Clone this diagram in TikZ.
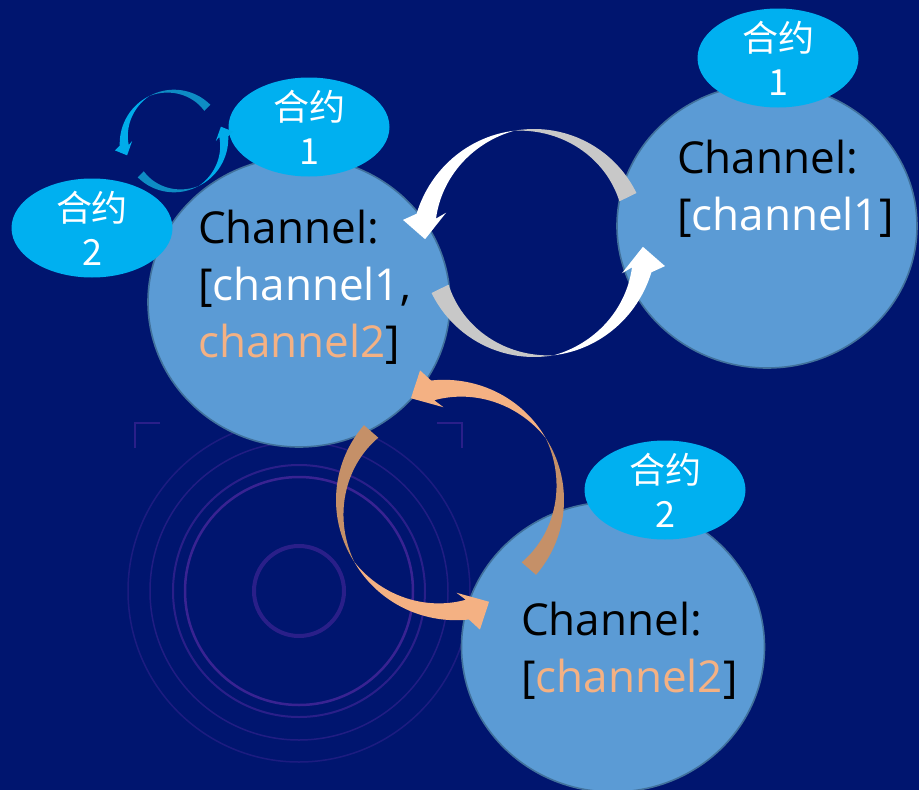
\documentclass[tikz,border=0pt]{standalone}
\usepackage{fontspec}
\setmainfont{Open Sans}
\newfontfamily\cjk{Noto Sans CJK SC}
\usetikzlibrary{shapes.geometric}
\definecolor{bg}{RGB}{0,21,111}
\definecolor{circfill}{RGB}{91,155,213}
\definecolor{circline}{RGB}{65,113,156}
\definecolor{ellfill}{RGB}{0,176,240}
\definecolor{orL}{RGB}{244,177,131}
\definecolor{orD}{RGB}{197,144,104}
\definecolor{grT}{RGB}{200,200,200}
\definecolor{smT}{RGB}{14,140,196}
\definecolor{smH}{RGB}{0,172,234}
\definecolor{deco}{RGB}{95,45,170}
\newcommand{\onearrow}[2]{%
 \fill[#1] plot[domain=26:100,samples=40] ({114*cos(\x)},{-114*sin(\x)})
   -- plot[domain=100:26,samples=40] ({(114-19*(100-\x)/74)*cos(\x)},{-(114-19*(100-\x)/74)*sin(\x)}) -- cycle;
 \fill[#2] plot[domain=100:166,samples=40] ({(114+7*(\x-100)/66)*cos(\x)},{-(114+7*(\x-100)/66)*sin(\x)})
   -- ({133*cos(170)},{-133*sin(170)}) -- ({109*cos(178)},{-109*sin(178)}) -- ({93*cos(161)},{-93*sin(161)})
   -- plot[domain=166:100,samples=40] ({(114-13*(\x-100)/66)*cos(\x)},{-(114-13*(\x-100)/66)*sin(\x)}) -- cycle;
}
\newcommand{\cyclepair}[6]{%
 \begin{scope}[shift={(#1,#2)},rotate=#3,scale=#4]
  \onearrow{#5}{#6}
  \begin{scope}[rotate=180]\onearrow{#5}{#6}\end{scope}
 \end{scope}}
\tikzset{
 bigcirc/.style={ellipse,draw=circline,line width=1.6pt,fill=circfill,inner sep=0pt},
 tag/.style={ellipse,fill=ellfill,inner sep=0pt,minimum width=161,minimum height=99},
 tagtext/.style={text=white,align=center,font=\cjk\fontsize{36}{44}\selectfont,inner sep=0pt},
 chtext/.style={anchor=base west,inner sep=0pt,font=\fontsize{44}{57}\selectfont,text=black},
 decoring/.style={draw=deco,opacity=0.45}
}
\begin{document}
\begin{tikzpicture}[x=1pt,y=-1pt]
\useasboundingbox (0,0) rectangle (919,790);
\fill[bg] (0,0) rectangle (919,790);
% background decoration
\draw[decoring,line width=4pt] (299,591) circle[radius=45];
\draw[decoring,line width=2.5pt,opacity=0.6] (299,591) circle[radius=114];
\draw[decoring,line width=2pt] (299,591) circle[radius=126];
\draw[decoring,line width=1.5pt,opacity=0.35] (299,591) circle[radius=149];
\draw[decoring,line width=1.5pt,opacity=0.3] (299,591) circle[radius=171];
\draw[decoring,line width=2pt] (135,448) -- (135,423) -- (160,423);
\draw[decoring,line width=2pt] (437,423) -- (462,423) -- (462,448);
% main circles
\node[bigcirc,minimum width=302,minimum height=290] (cA) at (299,302) {};
\node[bigcirc,minimum width=300,minimum height=284] (cB) at (767,226) {};
\node[bigcirc,minimum width=303,minimum height=290] (cC) at (613,647) {};
% tags
\node[tag] (eA1) at (309,127) {};
\node[tag] (eA2) at (92,228) {};
\node[tag] (eB1) at (778,58) {};
\node[tag] (eC2) at (665,490) {};
\node[tagtext] (tA1) at (eA1) {合约\\1};
\node[tagtext] (tA2) at (eA2) {合约\\2};
\node[tagtext] (tB1) at (eB1) {合约\\1};
\node[tagtext] (tC2) at (eC2) {合约\\2};
% circular arrows
\cyclepair{174}{141}{19}{0.45}{smT}{smH}
\cyclepair{534}{243}{0}{1}{grT}{white}
\cyclepair{450}{500}{113}{1}{orD}{orL}
% texts
\node[chtext] (a1) at (198,243) {Channel:};
\node[chtext] (a2) at (198,300) {[\textcolor{white}{channel1},};
\node[chtext] (a3) at (198,357) {\textcolor{orL}{channel2}]};
\node[chtext] (b1) at (677,173) {Channel:};
\node[chtext] (b2) at (677,230) {[\textcolor{white}{channel1}]};
\node[chtext] (c1) at (521,635) {Channel:};
\node[chtext] (c2) at (521,692) {[\textcolor{orL}{channel2}]};
\end{tikzpicture}
\end{document}
